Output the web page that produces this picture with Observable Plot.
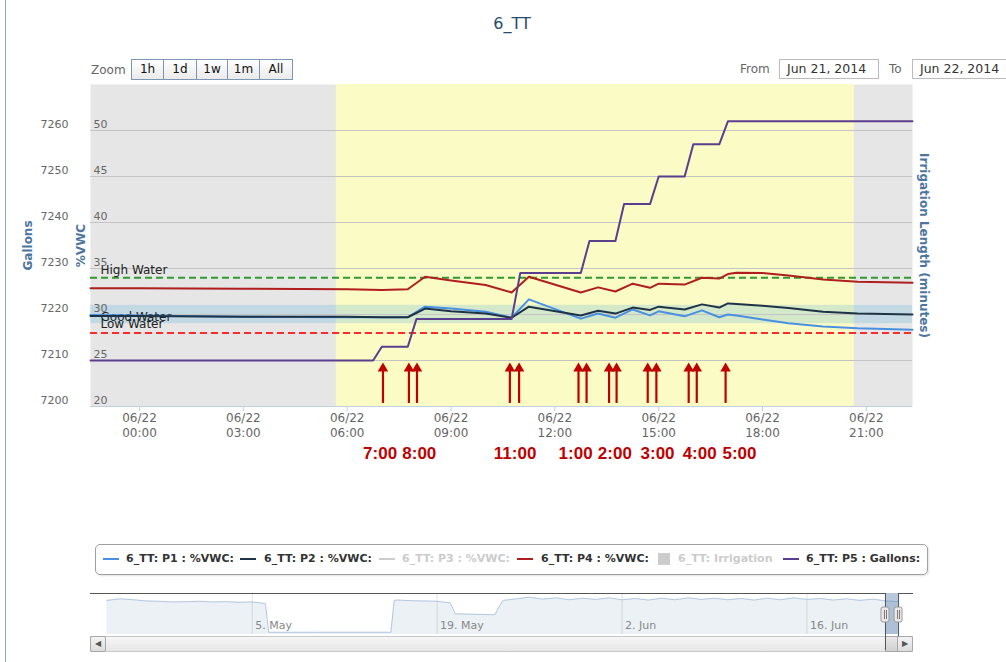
<!DOCTYPE html>
<html>
<head>
<meta charset="utf-8">
<script src="https://cdn.jsdelivr.net/npm/d3@7"></script>
<script src="https://cdn.jsdelivr.net/npm/@observablehq/plot@0.6"></script>
<style>
  html,body{margin:0;padding:0;background:#fff;}
  #wrap{position:relative;width:1006px;height:662px;overflow:hidden;font-family:"DejaVu Sans",sans-serif;}
  #wrap > *{position:absolute;}
  #leftborder{left:5px;top:0;width:1px;height:662px;background:#8aa8d0;}
  #title{left:412px;top:14px;width:200px;text-align:center;font-size:16px;line-height:20px;color:#274b6d;}
  #zoomlbl{left:91px;top:63px;font-size:12px;line-height:14px;color:#666;}
  .btn{top:59px;height:19px;border:1px solid #7d96b6;background:linear-gradient(#ffffff,#eaeaea);font-size:12px;line-height:19px;text-align:center;color:#111;}
  .lbl{top:62px;font-size:12px;line-height:14px;color:#666;}
  .datebox{top:59px;height:18px;border:1px solid #bbb;background:#fff;font-size:12.5px;line-height:18px;color:#333;padding-left:7px;box-sizing:content-box;}
  #legendbox{left:95px;top:544px;width:831px;height:29px;border:1px solid #a0a0a0;border-radius:5px;box-shadow:1px 1px 2px rgba(0,0,0,0.12);}
  .sym{top:558px;height:2px;width:16px;}
  .li{top:552px;font-size:11px;line-height:14px;font-weight:bold;color:#333;white-space:nowrap;}
  .li.off{color:#ccc;}
  #track{left:90px;top:636px;width:821px;height:14px;border:1px solid #c8c8c8;background:linear-gradient(#f6f6f6,#e6e6e6);}
  .sbtn{top:636px;width:14px;height:14px;border:1px solid #a8a8a8;border-radius:2px;background:linear-gradient(#f4f4f4,#dcdcdc);font-size:8px;line-height:14px;text-align:center;color:#555;}
  #thumb{top:636px;height:14px;border:1px solid #a8a8a8;background:linear-gradient(#e8e8e8,#d0d0d0);}
</style>
</head>
<body>
<div id="wrap">
  <div id="main"></div>
  <div id="leftborder"></div>
  <div id="title">6_TT</div>
  <div id="zoomlbl">Zoom</div>
  <div class="btn" style="left:131px;width:31px">1h</div>
  <div class="btn" style="left:163px;width:32px">1d</div>
  <div class="btn" style="left:196px;width:30px">1w</div>
  <div class="btn" style="left:227px;width:31px">1m</div>
  <div class="btn" style="left:259px;width:32px">All</div>
  <div class="lbl" style="left:740px">From</div>
  <div class="datebox" style="left:779px;width:91px">Jun 21, 2014</div>
  <div class="lbl" style="left:889px">To</div>
  <div class="datebox" style="left:912px;width:100px">Jun 22, 2014</div>

  <div id="legendbox"></div>
  <div class="sym" style="left:103px;background:#4a90e2"></div><div class="li" style="left:126px">6_TT: P1 : %VWC:</div>
  <div class="sym" style="left:240px;background:#1f3347"></div><div class="li" style="left:264px">6_TT: P2 : %VWC:</div>
  <div class="sym" style="left:379px;background:#cccccc"></div><div class="li off" style="left:402px">6_TT: P3 : %VWC:</div>
  <div class="sym" style="left:517px;background:#b01e1e"></div><div class="li" style="left:541px">6_TT: P4 : %VWC:</div>
  <div class="sym" style="left:658px;top:553px;width:12px;height:12px;background:#cccccc"></div><div class="li off" style="left:678px">6_TT: Irrigation</div>
  <div class="sym" style="left:783px;background:#5b3f8f"></div><div class="li" style="left:806px">6_TT: P5 : Gallons:</div>

  <div id="track"></div>
  <div id="thumb"></div>
  <div id="nav" style="left:0;top:585px"></div>
  <div class="sbtn" style="left:90px">&#9664;</div>
  <div class="sbtn" id="rbtn" style="left:897px">&#9654;</div>
</div>
<script>
// ---------- data ----------
const viewRange = ["21 22:35", "22 22:20"];          // visible time window
const daylight = ["05:41", "20:39"];                 // yellow daytime band (06/22)
const vwcTicks = [20, 25, 30, 35, 40, 45, 50];
const galTicks = [7200, 7210, 7220, 7230, 7240, 7250, 7260];
const xTicks = ["00:00", "03:00", "06:00", "09:00", "12:00", "15:00", "18:00", "21:00"];
const highWater = 34;
const lowWater = 28;
const goodWater = [29, 31];

const vwcTimes = ["21 22:35","22 00:00","22 03:00","22 06:00","22 07:00","22 07:45","22 08:15","22 09:00","22 10:00","22 10:45","22 11:15","22 12:45","22 13:15","22 13:45","22 14:15","22 14:45","22 15:00","22 15:45","22 16:15","22 16:45","22 17:00","22 17:15","22 18:00","22 18:45","22 19:45","22 20:45","22 22:20"];
const p1 = [29.95,29.9,29.75,29.7,29.7,29.7,30.85,30.65,30.3,29.65,31.65,29.55,30.1,29.65,30.55,29.9,30.35,29.8,30.45,29.7,30.0,29.9,29.45,29.05,28.7,28.5,28.35];
const p2 = [29.85,29.85,29.75,29.75,29.7,29.7,30.65,30.35,30.1,29.65,30.85,29.9,30.4,30.1,30.75,30.5,30.85,30.55,31.1,30.75,31.2,31.15,30.95,30.7,30.3,30.1,30.0];
const p4 = [32.85,32.85,32.8,32.75,32.65,32.75,34.1,33.7,33.2,32.4,34.1,32.4,32.95,32.5,33.35,32.9,33.35,33.25,34.0,33.9,34.4,34.55,34.5,34.25,33.8,33.55,33.45];

const p5Times = ["21 22:35","22 06:45","22 07:00","22 07:45","22 08:00","22 10:45","22 11:00","22 12:45","22 13:00","22 13:45","22 14:00","22 14:45","22 15:00","22 15:45","22 16:00","22 16:45","22 17:00","22 22:20"];
const p5 = [7210,7210,7213,7213,7219,7219,7229,7229,7236,7236,7244,7244,7250,7250,7257,7257,7262,7262];

const arrowTimes = ["07:02","07:47","08:01","10:42","10:58","12:41","12:55","13:34","13:47","14:41","14:56","15:52","16:06","16:56"];
const irrLabels = ["7:00","8:00","11:00","1:00","2:00","3:00","4:00","5:00"];
const irrLabelTimes = ["06:57","08:05","10:51","12:36","13:44","14:58","16:11","17:20"];
const arrowLevels = {base: 20.33, shaft: 24.0, head: 24.13};   // %VWC units

// navigator (overview) series
const navRange = ["04-22 18:15", "06-24 01:30"];
const navDates = ["04-24","04-25","04-26","04-27","04-28","04-29","04-30","05-01","05-02","05-03","05-04","05-05","05-06","05-06 06:00","05-10","05-15 12:00","05-15 18:00","05-16","05-17","05-18","05-19","05-20","05-20 09:00","05-23 09:00","05-23 18:00","05-24","05-25","05-26","05-27","05-28","05-29","05-30","05-31","06-01","06-02","06-03","06-04","06-05","06-06","06-07","06-08","06-09","06-10","06-11","06-12","06-13","06-14","06-15","06-16","06-17","06-18","06-19","06-20","06-21","06-22","06-22 22:20"];
const navValues = [30.4,30.9,30.6,30.2,30.1,29.9,30.0,30.1,29.9,30.0,29.8,29.9,29.4,20.2,20.2,20.2,30.4,30.5,30.3,30.2,30.1,29.6,26.1,25.8,28.8,30.4,30.9,31.4,30.8,31.2,30.6,31.1,30.7,31.2,30.6,31.0,30.5,31.1,30.6,31.2,30.7,31.1,30.6,31.0,30.5,31.1,30.6,31.2,30.7,31.0,30.5,30.9,30.4,30.8,30.2,30.0];
const navTicks = ["05-05","05-19","06-02","06-16"];
const navTickLabels = ["5. May","19. May","2. Jun","16. Jun"];
const navY = [19.5, 32.6];

// ---------- helpers ----------
const T = s => { const [d, hm] = s.split(" "); return new Date(`2014-06-${d}T${hm}:00Z`); };
const H = hm => T("22 " + hm);
const N = s => { const [md, hm] = s.split(" "); return new Date(`2014-${md}T${hm || "00:00"}:00Z`); };
const xDomain = viewRange.map(T);
const yDom = [vwcTicks[0], 55];
// gallons axis shares the plot: 7200 ↔ 20 %VWC, 7260 ↔ 50 %VWC
const galRatio = (vwcTicks[6] - vwcTicks[0]) / (galTicks[6] - galTicks[0]);
const toV = g => vwcTicks[0] + (g - galTicks[0]) * galRatio;

const vwcRows = vwcTimes.map((t, i) => ({t: T(t), p1: p1[i], p2: p2[i], p4: p4[i]}));
const p5Rows = p5Times.map((t, i) => ({t: T(t), g: p5[i]}));
const font = "DejaVu Sans, sans-serif";

const main = Plot.plot({
  width: 1006, height: 480,
  marginLeft: 90, marginRight: 94, marginTop: 84, marginBottom: 74,
  x: {type: "utc", domain: xDomain, axis: null},
  y: {domain: yDom, axis: null},
  style: {fontFamily: font, fontSize: "11px", background: "transparent", overflow: "visible"},
  marks: [
    Plot.frame({fill: "#e6e6e6", stroke: null}),
    Plot.rect([daylight], {x1: d => H(d[0]), x2: d => H(d[1]), y1: yDom[0], y2: yDom[1], fill: "#fbfbc6"}),
    Plot.rect([goodWater], {x1: xDomain[0], x2: xDomain[1], y1: d => d[0], y2: d => d[1], fill: "rgba(68,170,213,0.22)"}),
    Plot.ruleY(vwcTicks.slice(1), {stroke: "#c4c4c4"}),
    Plot.ruleY([highWater], {stroke: "#2f9a2f", strokeWidth: 2, strokeDasharray: "7,4"}),
    Plot.ruleY([lowWater], {stroke: "#ff2a2a", strokeWidth: 2, strokeDasharray: "7,4"}),
    Plot.text(["High Water"], {y: highWater, frameAnchor: "left", dx: 10, dy: -8, textAnchor: "start", fill: "#222", fontSize: 12}),
    Plot.text(["Good Water"], {y: (goodWater[0] + goodWater[1]) / 2, frameAnchor: "left", dx: 10, dy: 3, textAnchor: "start", fill: "#222", fontSize: 12}),
    Plot.text(["Low Water"], {y: lowWater, frameAnchor: "left", dx: 10, dy: -9, textAnchor: "start", fill: "#222", fontSize: 12}),
    Plot.line(vwcRows, {x: "t", y: "p1", stroke: "#4a90e2", strokeWidth: 2}),
    Plot.line(vwcRows, {x: "t", y: "p2", stroke: "#1f3347", strokeWidth: 2}),
    Plot.line(vwcRows, {x: "t", y: "p4", stroke: "#b01e1e", strokeWidth: 2}),
    Plot.line(p5Rows, {x: "t", y: d => toV(d.g), stroke: "#5b3f8f", strokeWidth: 2}),
    // irrigation arrows
    Plot.ruleX(arrowTimes, {x: H, y1: arrowLevels.base, y2: arrowLevels.shaft, stroke: "#c00000", strokeWidth: 2.2}),
    Plot.dot(arrowTimes, {x: H, y: arrowLevels.head, symbol: "triangle", r: 3.9, fill: "#c00000", stroke: null}),
    Plot.text(irrLabels, {x: (d, i) => H(irrLabelTimes[i]), text: d => d, frameAnchor: "bottom", dy: 52, fill: "#c00000", fontWeight: "bold", fontSize: 17, fontFamily: "Liberation Sans, Arial, sans-serif"}),
    // axes
    Plot.ruleY([yDom[0]], {stroke: "#c0d0e0"}),
    Plot.axisX({ticks: xTicks.map(H), tickFormat: d3.utcFormat("%m/%d\n%H:%M"), tickSize: 5, tickPadding: 0, stroke: "#c0d0e0", fill: "#666", fontSize: 12, lineHeight: 1.25, label: null}),
    Plot.text(galTicks, {y: toV, text: d => String(d), frameAnchor: "left", textAnchor: "end", dx: -22, dy: -6, fill: "#666", fontSize: 11}),
    Plot.text(vwcTicks, {y: d => d, text: d => String(d), frameAnchor: "left", textAnchor: "start", dx: 3, dy: -6, fill: "#666", fontSize: 11}),
    Plot.text(["Gallons"], {frameAnchor: "left", dx: -62, rotate: -90, textAnchor: "middle", fill: "#4d759e", fontWeight: "bold", fontSize: 12}),
    Plot.text(["%VWC"], {frameAnchor: "left", dx: -9, rotate: -90, textAnchor: "middle", fill: "#4d759e", fontWeight: "bold", fontSize: 12}),
    Plot.text(["Irrigation Length (minutes)"], {frameAnchor: "right", dx: 11, rotate: 90, textAnchor: "middle", fill: "#4d759e", fontWeight: "bold", fontSize: 12})
  ]
});
document.getElementById("main").append(main);

// ---------- navigator ----------
const navRows = navDates.map((d, i) => ({t: N(d), v: navValues[i]}));
const navDomain = navRange.map(N);
const nav = Plot.plot({
  width: 1006, height: 70,
  marginLeft: 90, marginRight: 93, marginTop: 8, marginBottom: 21,
  x: {type: "utc", domain: navDomain, axis: null},
  y: {domain: navY, axis: null},
  style: {fontFamily: font, fontSize: "11px", background: "transparent", overflow: "visible"},
  marks: [
    Plot.ruleX(navTicks, {x: N, stroke: "#e2e2e2"}),
    Plot.areaY(navRows, {x: "t", y1: navY[0], y2: "v", fill: "rgba(69,114,167,0.1)"}),
    Plot.line(navRows, {x: "t", y: "v", stroke: "#b4c8e0", strokeWidth: 1}),
    Plot.text(navTickLabels, {x: (d, i) => N(navTicks[i]), text: d => d, frameAnchor: "bottom", dy: -6, dx: 3, textAnchor: "start", fill: "#888", fontSize: 11}),
    Plot.rect([xDomain], {x1: d => d[0], x2: d => d[1], y1: navY[0], y2: navY[1], fill: "rgba(69,114,167,0.38)"}),
    Plot.ruleY([[navDomain[0], xDomain[0]], [xDomain[1], navDomain[1]]], {x1: d => d[0], x2: d => d[1], y: navY[1], stroke: "#555"}),
    Plot.ruleX(xDomain, {x: d => d, stroke: "#555", insetBottom: -16}),
    Plot.rect(xDomain, {x1: d => d, x2: d => d, y1: navY[0], y2: navY[1], insetTop: 14, insetBottom: 12, insetLeft: -4, insetRight: -4, rx: 2, fill: "#ebe7e8", stroke: "#999"}),
    Plot.ruleX(xDomain, {x: d => d, insetTop: 17, insetBottom: 15, dx: -1, stroke: "#777"}),
    Plot.ruleX(xDomain, {x: d => d, insetTop: 17, insetBottom: 15, dx: 1, stroke: "#777"})
  ]
});
document.getElementById("nav").append(nav);
const sx = nav.scale("x");
const th = document.getElementById("thumb");
const a = sx.apply(xDomain[0]), b = sx.apply(xDomain[1]);
th.style.left = a + "px";
th.style.width = Math.max(1, b - a - 2) + "px";
</script>
</body>
</html>
